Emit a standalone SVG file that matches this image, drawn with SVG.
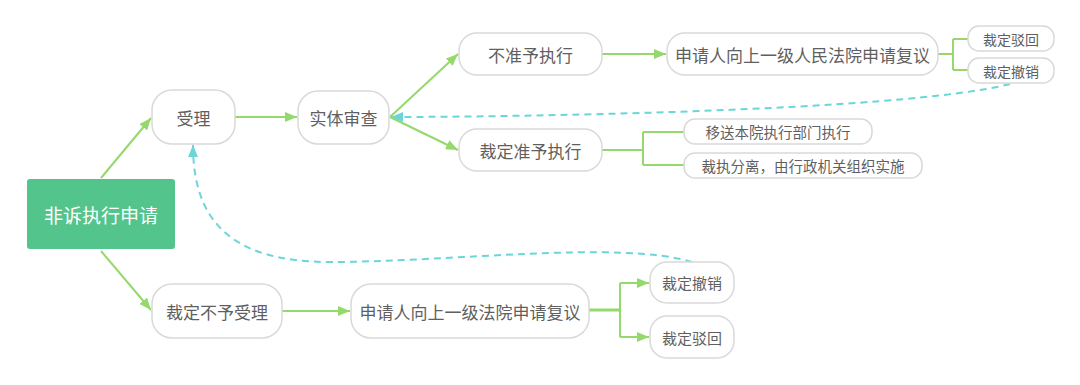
<svg xmlns="http://www.w3.org/2000/svg" width="1080" height="385" viewBox="0 0 1080 385">
<defs>
<marker id="ag" viewBox="0 0 12 10" refX="12" refY="5" markerWidth="12" markerHeight="10" markerUnits="userSpaceOnUse" orient="auto"><path d="M0,0 L12,5 L0,10 z" fill="#95d86b"/></marker>
<marker id="ac" viewBox="0 0 12 10" refX="12" refY="5" markerWidth="12" markerHeight="10" markerUnits="userSpaceOnUse" orient="auto"><path d="M0,0 L12,5 L0,10 z" fill="#6dd5d8"/></marker>
<style>
.n{fill:#fff;stroke:#d9d9d9;stroke-width:1.5}
.t{font-family:"Noto Sans CJK SC","Noto Sans",sans-serif;fill:#5f5f5f;text-anchor:middle;dominant-baseline:central}
.g{fill:none;stroke:#95d86b;stroke-width:2}
.d{fill:none;stroke:#6dd5d8;stroke-width:2;stroke-dasharray:7,5}
</style>
</defs>
<rect width="1080" height="385" fill="#fff"/>
<g id="connectors">
<line class="g" x1="101" y1="178" x2="151" y2="118" marker-end="url(#ag)"/>
<line class="g" x1="101" y1="251" x2="151" y2="310" marker-end="url(#ag)"/>
<line class="g" x1="235" y1="117" x2="297" y2="117" marker-end="url(#ag)"/>
<line class="g" x1="390" y1="117" x2="458" y2="54" marker-end="url(#ag)"/>
<line class="g" x1="390" y1="117" x2="458" y2="150" marker-end="url(#ag)"/>
<line class="g" x1="602" y1="54" x2="666" y2="54" marker-end="url(#ag)"/>
<line class="g" x1="282" y1="311" x2="350" y2="311" marker-end="url(#ag)"/>
<path class="g" d="M938,54 H953 M953,39 V70 M953,39 H968 M953,70 H968"/>
<path class="g" d="M602,150 H643 M643,132 V165 M643,132 H684 M643,165 H684"/>
<path class="g" d="M589,310 H620" style="stroke-width:3"/>
<path class="g" d="M620,283 V337"/>
<line class="g" x1="620" y1="283" x2="649" y2="283" marker-end="url(#ag)"/>
<line class="g" x1="620" y1="337" x2="649" y2="337" marker-end="url(#ag)"/>
<path class="d" d="M1010,84 C900,112 500,117 391,117" marker-end="url(#ac)"/>
<path class="d" d="M692,262 C620,240 450,262 330,262 C230,262 193,220 193,145" marker-end="url(#ac)"/>
</g>
<g id="root"><rect x="27" y="179" width="148" height="70" rx="3" fill="#52c48c"/><text class="t" x="101" y="214" font-size="19" style="fill:#fff">非诉执行申请</text></g>
<g id="n-shouli"><rect class="n" x="152" y="90" width="83" height="54" rx="20"/><text class="t" x="193.5" y="117" font-size="17">受理</text></g>
<g id="n-shiti"><rect class="n" x="298" y="91" width="91" height="53" rx="20"/><text class="t" x="343.5" y="117" font-size="17">实体审查</text></g>
<g id="n-buzhun"><rect class="n" x="459" y="33" width="143" height="42" rx="18"/><text class="t" x="530.5" y="54" font-size="17">不准予执行</text></g>
<g id="n-zhunyu"><rect class="n" x="459" y="129" width="143" height="42" rx="18"/><text class="t" x="530.5" y="150" font-size="17">裁定准予执行</text></g>
<g id="n-fuyi1"><rect class="n" x="667" y="33" width="271" height="42" rx="18"/><text class="t" x="802.5" y="54" font-size="17">申请人向上一级人民法院申请复议</text></g>
<g id="n-bohui1"><rect class="n" x="968" y="26" width="86" height="25" rx="11"/><text class="t" x="1011" y="38.5" font-size="14">裁定驳回</text></g>
<g id="n-chexiao1"><rect class="n" x="968" y="58" width="86" height="25" rx="11"/><text class="t" x="1011" y="70.5" font-size="14">裁定撤销</text></g>
<g id="n-yisong"><rect class="n" x="684" y="119" width="188" height="25" rx="11"/><text class="t" x="778" y="131.5" font-size="14.5">移送本院执行部门执行</text></g>
<g id="n-caizhi"><rect class="n" x="684" y="153" width="238" height="25" rx="11"/><text class="t" x="803" y="165.5" font-size="14.5">裁执分离，由行政机关组织实施</text></g>
<g id="n-buyu"><rect class="n" x="152" y="284" width="130" height="54" rx="20"/><text class="t" x="217" y="311" font-size="17">裁定不予受理</text></g>
<g id="n-fuyi2"><rect class="n" x="351" y="284" width="238" height="54" rx="20"/><text class="t" x="470" y="311" font-size="17">申请人向上一级法院申请复议</text></g>
<g id="n-chexiao2"><rect class="n" x="650" y="262" width="84" height="41" rx="17"/><text class="t" x="692" y="282.5" font-size="15">裁定撤销</text></g>
<g id="n-bohui2"><rect class="n" x="650" y="316" width="84" height="42" rx="17"/><text class="t" x="692" y="337" font-size="15">裁定驳回</text></g>
</svg>
